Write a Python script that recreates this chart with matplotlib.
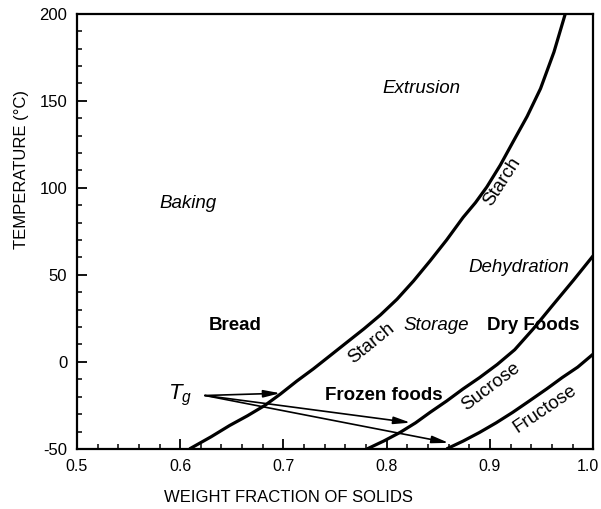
import matplotlib
matplotlib.use("Agg")
import matplotlib.pyplot as plt
import matplotlib.transforms as mtransforms
from matplotlib.ticker import MultipleLocator

plt.rcParams['font.family'] = ['Liberation Sans', 'DejaVu Sans']
plt.rcParams['mathtext.fontset'] = 'custom'
plt.rcParams['mathtext.it'] = 'Liberation Sans:italic'
plt.rcParams['mathtext.rm'] = 'Liberation Sans'

# Glass transition curves (weight fraction of solids, temperature °C)
starch_x = [0.609, 0.630, 0.648, 0.665, 0.682, 0.697, 0.713, 0.729, 0.745, 0.762, 0.778,
            0.794, 0.810, 0.826, 0.842, 0.858, 0.874, 0.886, 0.897, 0.910, 0.922, 0.936,
            0.949, 0.962, 0.973]
starch_y = [-50, -43, -36.5, -31, -25, -18.5, -11, -4, 3.5, 11.5, 19,
            27, 36, 46.5, 58, 70, 83, 91.5, 100.5, 113, 126, 141,
            157, 178, 200]
sucrose_x = [0.781, 0.797, 0.813, 0.828, 0.842, 0.858, 0.874, 0.890, 0.907, 0.924, 0.942,
             0.960, 0.981, 1.0]
sucrose_y = [-50, -45.5, -40.5, -35, -29, -22.5, -15.5, -9, -1.5, 7, 19,
             32, 47, 61]
fructose_x = [0.858, 0.874, 0.890, 0.906, 0.922, 0.938, 0.955, 0.970, 0.985, 1.0]
fructose_y = [-50, -45.5, -40.5, -35, -29, -22.5, -15.5, -9, -3, 4.5]

# Region labels: (text, x, y, style, weight)
region_labels = [
    ("Extrusion", 0.834, 157, 'italic', 'normal'),
    ("Baking", 0.608, 91, 'italic', 'normal'),
    ("Bread", 0.653, 21, 'normal', 'bold'),
    ("Storage", 0.848, 21, 'italic', 'normal'),
    ("Dry Foods", 0.942, 21, 'normal', 'bold'),
    ("Dehydration", 0.928, 54, 'italic', 'normal'),
    ("Frozen foods", 0.797, -19.4, 'normal', 'bold'),
]
# Curve labels: (text, x, y, rotation)
curve_labels = [
    ("Starch", 0.912, 103.5, 57),
    ("Starch", 0.7855, 10.6, 39),
    ("Sucrose", 0.901, -14.5, 37),
    ("Fructose", 0.9535, -27, 34),
]
tg_pos = (0.600, -19)
arrow_start = (0.624, -19.3)
arrow_tips = [(0.697, -18.0), (0.823, -34.9), (0.860, -46.5)]

fig = plt.figure(figsize=(6.01, 5.09), dpi=100)
ax = fig.add_axes([0.128, 0.118, 0.859, 0.855])

for xs, ys in [(starch_x, starch_y), (sucrose_x, sucrose_y), (fructose_x, fructose_y)]:
    ax.plot(xs, ys, color='black', lw=2.3, solid_capstyle='butt',
            solid_joinstyle='round', clip_on=True)

for txt, x, y, st, wt in region_labels:
    ax.text(x, y, txt, ha='center', va='center', fontsize=13.5, style=st,
            fontweight=wt, color='black')

for txt, x, y, rot in curve_labels:
    ax.text(x, y, txt, ha='center', va='center', fontsize=13.5, rotation=rot,
            rotation_mode='anchor', color='black')

ax.text(tg_pos[0], tg_pos[1], r'$T_g$', ha='center', va='center', fontsize=16)

for tip in arrow_tips:
    ax.annotate('', xy=tip, xytext=arrow_start,
                arrowprops=dict(arrowstyle='-|>,head_length=1.0,head_width=0.22',
                                color='black', lw=1.2, shrinkA=0, shrinkB=0))

ax.set_xlim(0.5, 1.0)
ax.set_ylim(-50, 200)
ax.xaxis.set_minor_locator(MultipleLocator(0.02))
ax.yaxis.set_minor_locator(MultipleLocator(10))
ax.set_xticks([0.5, 0.6, 0.7, 0.8, 0.9, 1.0])
ax.set_xticklabels(['0.5', '0.6', '0.7', '0.8', '0.9', '1.0'])
ax.set_yticks([-50, 0, 50, 100, 150, 200])
ax.set_yticklabels(['-50', '0', '50', '100', '150', '200'])
ax.tick_params(which='major', direction='in', length=7, width=1.3, labelsize=12, pad=7,
               top=False, right=False)
ax.tick_params(axis='x', which='major', labelsize=11.5)
ax.tick_params(which='minor', direction='in', length=3.5, width=1.1, top=False, right=False)
for sp in ax.spines.values():
    sp.set_linewidth(1.6)

# nudge the last x tick label left so it stays inside the canvas
last = ax.get_xticklabels()[-1]
last.set_transform(last.get_transform() +
                   mtransforms.ScaledTranslation(-0.05, 0, fig.dpi_scale_trans))

ax.set_xlabel('WEIGHT FRACTION OF SOLIDS', fontsize=12)
ax.set_ylabel('TEMPERATURE (°C)', fontsize=12)
ax.xaxis.set_label_coords(0.409, -0.094)
ax.yaxis.set_label_coords(-0.092, 0.641)

fig.savefig('out.png', dpi=100)
